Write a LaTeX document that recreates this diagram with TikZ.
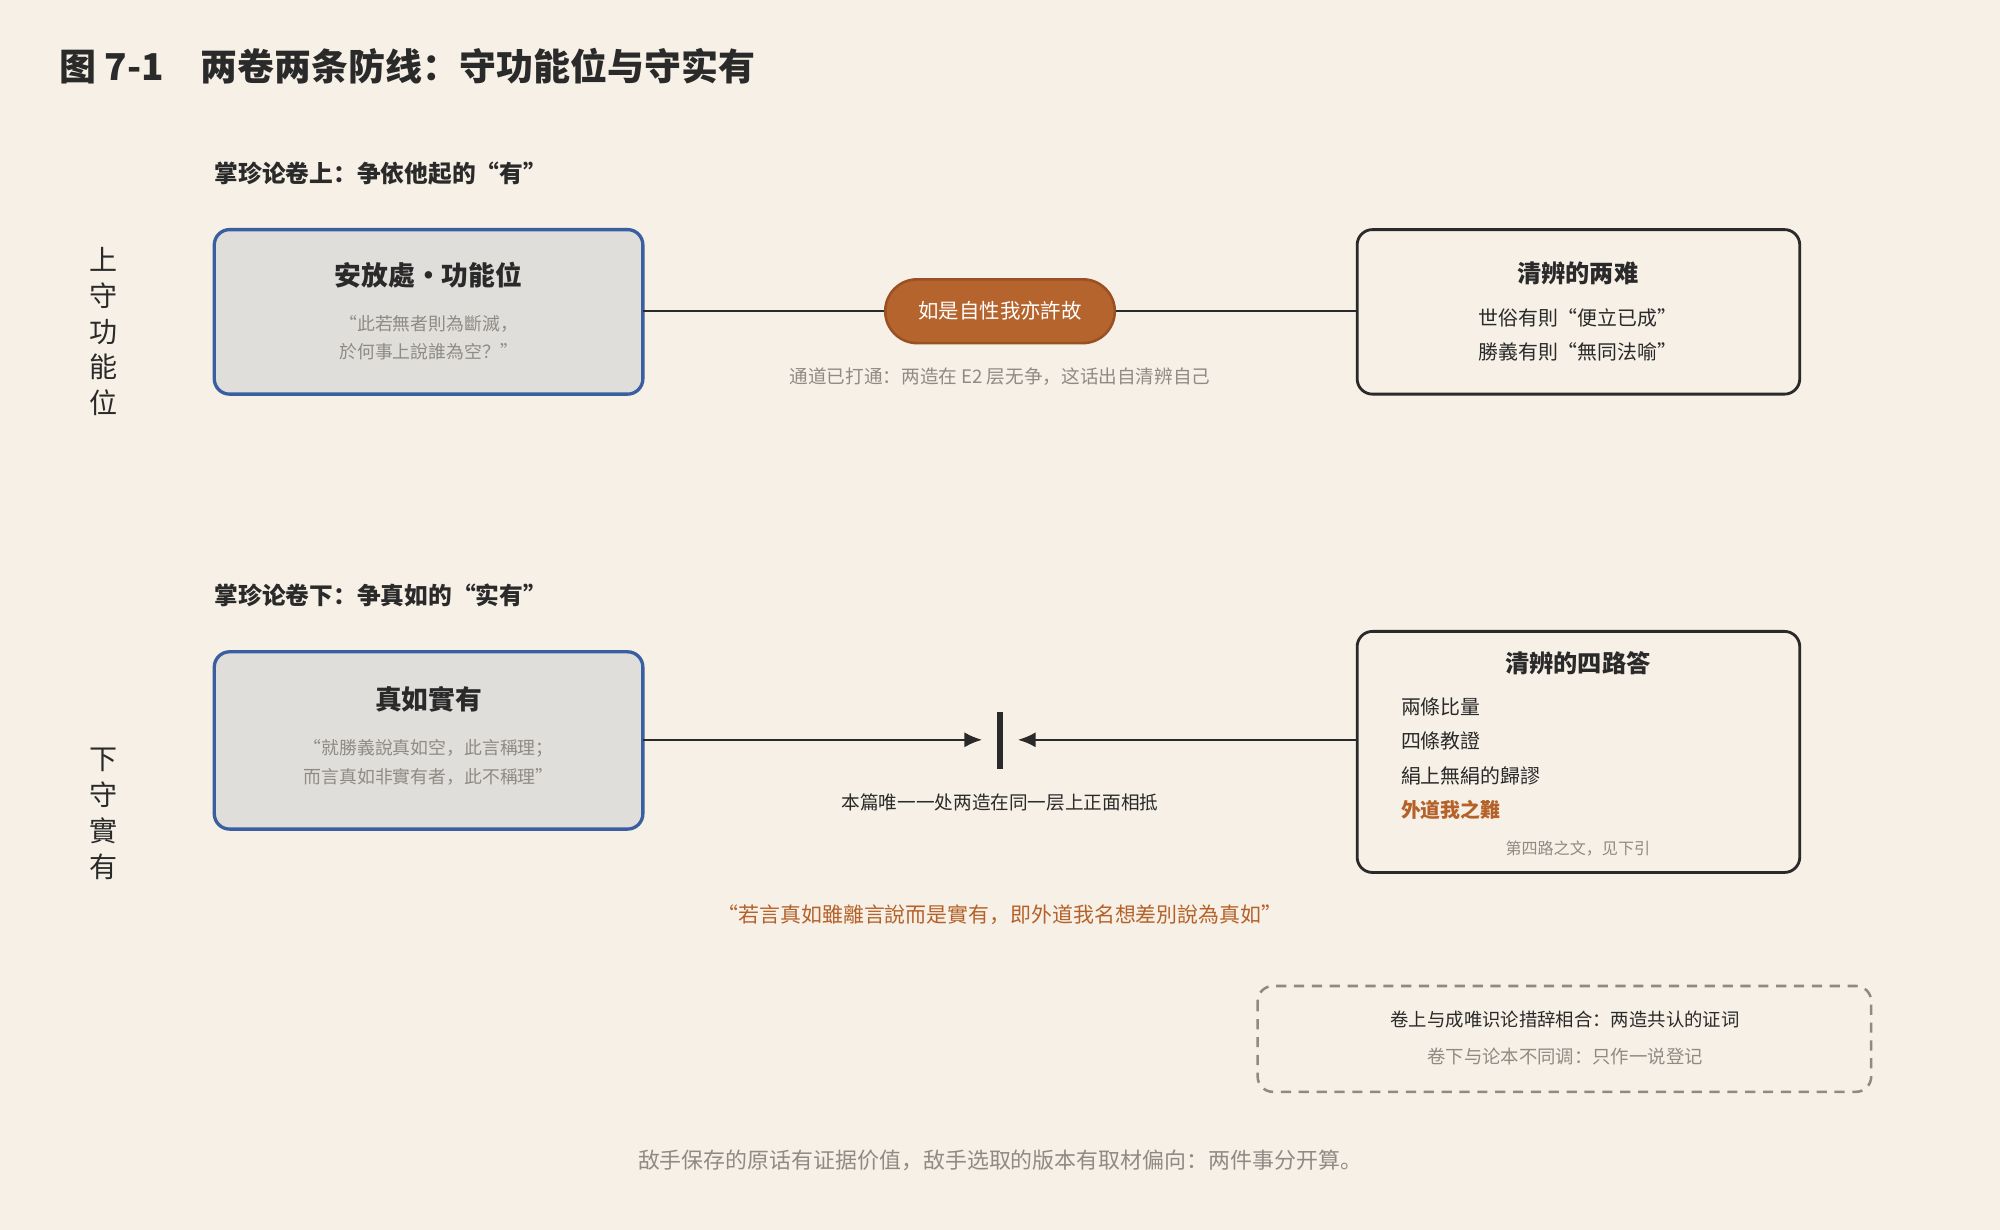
\documentclass[tikz,border=0pt]{standalone}
\usepackage{fontspec}
\setmainfont{Noto Sans CJK SC}
\usetikzlibrary{arrows.meta}
\definecolor{bg}{HTML}{F6F0E6}
\definecolor{blueb}{HTML}{3A5FA0}
\definecolor{boxf}{HTML}{E0DEDB}
\definecolor{pillf}{HTML}{B5642E}
\definecolor{pilld}{HTML}{9A5024}
\definecolor{orn}{HTML}{B5622A}
\definecolor{gry}{HTML}{8F8A84}
\definecolor{drk}{HTML}{2A2A2A}
\tikzset{
 fs/.style={font=\fontsize{#1}{#1}\selectfont},
 bb/.style={font=\fontsize{#1}{#1}\selectfont\bfseries},
 bluebox/.style={draw=blueb,line width=1.3pt,fill=boxf,rounded corners=6pt},
 blkbox/.style={draw=drk,line width=1.1pt,fill=bg,rounded corners=6pt},
 conn/.style={draw=drk,line width=0.9pt},
 arr/.style={conn,-{Latex[length=7pt,width=6pt]}},
}
\begin{document}
\begin{tikzpicture}[x=0.5pt,y=-0.5pt,text=drk]
\fill[bg] (0,0) rectangle (1568,964);
\useasboundingbox (0,0) rectangle (1568,964);
\node[bb=14.5,anchor=west,inner sep=0] (title) at (46,52) {图 7-1\quad 两卷两条防线：守功能位与守实有};
\node[bb=9.3,anchor=west,inner sep=0] (h1) at (168,136) {掌珍论卷上：争依他起的“有”};
\node[fs=11,align=center] (s1) at (81,260) {上\\[3pt]守\\[3pt]功\\[3pt]能\\[3pt]位};
\draw[bluebox] (168,180) rectangle (504,309);
\coordinate (Ae) at (504,244);
\node[bb=10.5] (At) at (336,216) {安放處・功能位};
\node[fs=7,text=gry] (A1) at (336,254) {“此若無者則為斷滅，};
\node[fs=7,text=gry] (A2) at (336,276) {於何事上說誰為空？”};
\node[fill=pillf,draw=pilld,line width=1pt,rounded corners=12.5pt,minimum width=90pt,minimum height=25pt,text=white,fs=8] (P) at (784,244) {如是自性我亦許故};
\draw[blkbox] (1064,180) rectangle (1411,309);
\coordinate (Bw) at (1064,244);
\node[bb=9.5] (Bt) at (1237,214) {清辨的两难};
\node[fs=7.8] (B1) at (1237,249) {世俗有則“便立已成”};
\node[fs=7.8] (B2) at (1237,276) {勝義有則“無同法喻”};
\draw[conn] (Ae) -- (P.west); \draw[conn] (P.east) -- (Bw);
\node[fs=7.3,text=gry] (c1) at (784,295) {通道已打通：两造在 E2 层无争，这话出自清辨自己};
\node[bb=9.3,anchor=west,inner sep=0] (h2) at (168,467) {掌珍论卷下：争真如的“实有”};
\node[fs=11,align=center] (s2) at (81,638) {下\\[3pt]守\\[3pt]實\\[3pt]有};
\draw[bluebox] (168,511) rectangle (504,650);
\coordinate (Ce) at (504,580);
\node[bb=10.5] (Ct) at (336,548) {真如實有};
\node[fs=7,text=gry] (C1) at (336,587) {“就勝義說真如空，此言稱理；};
\node[fs=7,text=gry] (C2) at (336,609) {而言真如非實有者，此不稱理”};
\draw[blkbox] (1064,495) rectangle (1411,684);
\coordinate (Dw) at (1064,580);
\node[bb=9.5] (Dt) at (1237,520) {清辨的四路答};
\node[fs=7.8,anchor=west,inner sep=0] (D1) at (1098,554) {兩條比量};
\node[fs=7.8,anchor=west,inner sep=0] (D2) at (1098,581) {四條教證};
\node[fs=7.8,anchor=west,inner sep=0] (D3) at (1098,608) {絹上無絹的歸謬};
\node[bb=7.8,anchor=west,text=orn,inner sep=0] (D4) at (1098,635) {外道我之難};
\node[fs=6.3,text=gry] (D5) at (1237,665) {第四路之文，见下引};
\coordinate (wt) at (784,558); \coordinate (wb) at (784,603);
\coordinate (wl) at (770,580); \coordinate (wr) at (798,580);
\draw[draw=drk,line width=2pt] (wt) -- (wb);
\draw[arr] (Ce) -- (wl); \draw[arr] (Dw) -- (wr);
\node[fs=7.3] (c2) at (784,629) {本篇唯一一处两造在同一层上正面相抵};
\node[fs=8.2,text=orn] (q) at (784,717) {“若言真如雖離言說而是實有，即外道我名想差別說為真如”};
\draw[draw=gry,line width=1pt,dash pattern=on 4pt off 3pt,rounded corners=6pt] (986,773) rectangle (1467,856);
\node[fs=7.2] (E1) at (1227,799) {卷上与成唯识论措辞相合：两造共认的证词};
\node[fs=7.2,text=gry] (E2) at (1227,828) {卷下与论本不同调：只作一说登记};
\node[fs=8.6,text=gry] (bot) at (784,910) {敌手保存的原话有证据价值，敌手选取的版本有取材偏向：两件事分开算。};
\end{tikzpicture}
\end{document}
